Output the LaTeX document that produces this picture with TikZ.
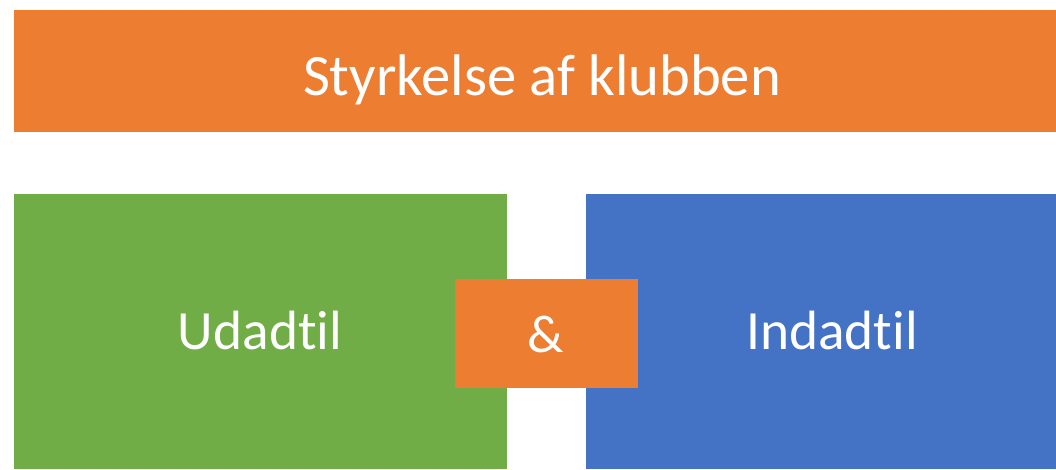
\documentclass[tikz,border=0pt]{standalone}
\usepackage{fontspec}
\setmainfont[Ligatures={NoCommon,NoRare}]{Carlito}
\definecolor{boxorange}{HTML}{ED7D31}
\definecolor{boxgreen}{HTML}{70AD47}
\definecolor{boxblue}{HTML}{4472C4}
\tikzset{every picture/.style={line width=0.75pt}}
\tikzset{lbl/.style={text=white, anchor=base, inner sep=0pt}}
\begin{document}
\begin{tikzpicture}[x=0.75pt,y=0.75pt,yscale=-1,xscale=1]
	\useasboundingbox (0,0) rectangle (1056,469);

	%Shape: Rectangle [id:top bar]
	\fill[boxorange] (14,10) rectangle (1056,132);
	%Shape: Rectangle [id:left box]
	\fill[boxgreen] (14,194) rectangle (507,469);
	%Shape: Rectangle [id:right box]
	\fill[boxblue] (586,194) rectangle (1056,469);
	%Shape: Rectangle [id:middle box]
	\fill[boxorange] (455,279) rectangle (638,388);

	% Text Node
	\node[lbl, font=\fontsize{44}{50}\selectfont] (styrkelse) at (542,95) {Styrkelse af klubben};
	% Text Node
	\node[lbl, font=\fontsize{41.5}{48}\selectfont] (udadtil) at (260,349) {Udadtil};
	% Text Node
	\node[lbl, font=\fontsize{41.5}{48}\selectfont] (indadtil) at (832,349) {Indadtil};
	% Text Node
	\node[lbl, font=\fontsize{40}{46}\selectfont] (og) at (546,352) {\&};

\end{tikzpicture}
\end{document}
